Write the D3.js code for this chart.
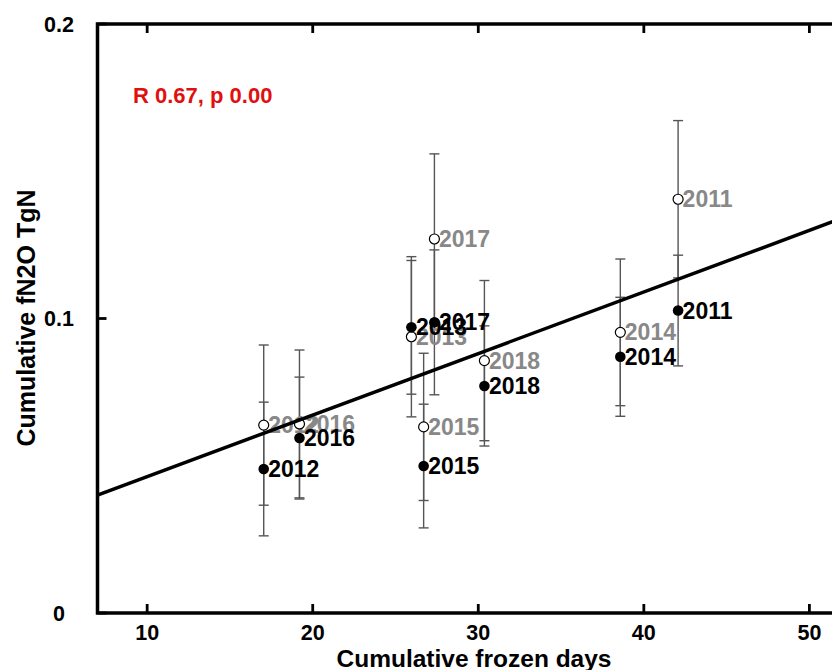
<!DOCTYPE html>
<html><head><meta charset="utf-8">
<script src="https://cdn.jsdelivr.net/npm/d3@7"></script>
<style>body{margin:0;background:#fff}svg{display:block}text{font-family:"Liberation Sans",Arial,sans-serif;font-weight:bold}</style>
</head><body><svg id="c" width="832" height="670"></svg>
<script>
const years = ["2011","2012","2013","2014","2015","2016","2017","2018"];
const frozenDays = [42.07, 17.04, 25.96, 38.58, 26.70, 19.20, 27.35, 30.37];
const filledVal = [0.1027, 0.0489, 0.0970, 0.0870, 0.0499, 0.0594, 0.0987, 0.0771];
const filledErr = [0.0188, 0.0227, 0.0227, 0.0202, 0.0210, 0.0207, 0.0246, 0.0204];
const openVal = [0.1405, 0.0638, 0.0938, 0.0953, 0.0632, 0.0642, 0.1270, 0.0857];
const openErr = [0.0267, 0.0272, 0.0272, 0.0249, 0.0250, 0.0251, 0.0289, 0.0272];
const fitX = [7, 52];
const fitY = [0.0400, 0.1341];
const xTicks = [10, 20, 30, 40, 50];
const yTicks = [0, 0.1, 0.2];
const yTickLabels = ["0", "0.1", "0.2"];
const statText = "R 0.67, p 0.00";

const svg = d3.select("#c");
const x = d3.scaleLinear().domain([7, 52]).range([97.5, 842.5]);
const y = d3.scaleLinear().domain([0, 0.2]).range([613, 24]);

const g = svg.append("g");
years.forEach((yr, i) => {
  const px = x(frozenDays[i]);
  [[filledVal[i], filledErr[i]], [openVal[i], openErr[i]]].forEach(([v, e]) => {
    const y0 = y(v - e), y1 = y(v + e);
    g.append("line").attr("x1", px).attr("x2", px).attr("y1", y0).attr("y2", y1)
      .attr("stroke", "#555").attr("stroke-width", 1.4);
    [y0, y1].forEach(yy => g.append("line").attr("x1", px - 5).attr("x2", px + 5)
      .attr("y1", yy).attr("y2", yy).attr("stroke", "#555").attr("stroke-width", 1.4));
  });
});
years.forEach((yr, i) => {
  const px = x(frozenDays[i]);
  g.append("circle").attr("cx", px).attr("cy", y(openVal[i])).attr("r", 5)
    .attr("fill", "#fff").attr("stroke", "#000").attr("stroke-width", 1.2);
  g.append("text").attr("x", px + 4.5).attr("y", y(openVal[i]) + 8)
    .attr("font-size", 23).attr("fill", "#888").text(yr);
  g.append("circle").attr("cx", px).attr("cy", y(filledVal[i])).attr("r", 5.3)
    .attr("fill", "#000");
  g.append("text").attr("x", px + 4.5).attr("y", y(filledVal[i]) + 8)
    .attr("font-size", 23).attr("fill", "#000").text(yr);
});

svg.append("line").attr("x1", x(fitX[0])).attr("y1", y(fitY[0]))
  .attr("x2", x(fitX[1])).attr("y2", y(fitY[1]))
  .attr("stroke", "#000").attr("stroke-width", 3.5);

const xr = x.range(), yr = y.range();
svg.append("rect").attr("x", xr[0]).attr("y", yr[1]).attr("width", xr[1] - xr[0])
  .attr("height", yr[0] - yr[1]).attr("fill", "none").attr("stroke", "#000").attr("stroke-width", 3.5);
xTicks.forEach(t => {
  svg.append("line").attr("x1", x(t)).attr("x2", x(t)).attr("y1", yr[0]).attr("y2", yr[0] - 9)
    .attr("stroke", "#000").attr("stroke-width", 2.8);
  svg.append("line").attr("x1", x(t)).attr("x2", x(t)).attr("y1", yr[1]).attr("y2", yr[1] + 9)
    .attr("stroke", "#000").attr("stroke-width", 2.8);
  svg.append("text").attr("x", x(t)).attr("y", 640).attr("text-anchor", "middle")
    .attr("font-size", 21.5).text(t);
});
yTicks.forEach((t, i) => {
  svg.append("line").attr("x1", xr[0]).attr("x2", xr[0] + 9).attr("y1", y(t)).attr("y2", y(t))
    .attr("stroke", "#000").attr("stroke-width", 2.8);
  svg.append("line").attr("x1", xr[1]).attr("x2", xr[1] - 9).attr("y1", y(t)).attr("y2", y(t))
    .attr("stroke", "#000").attr("stroke-width", 2.8);
  svg.append("text").attr("x", 59).attr("y", y(t) + 7.5).attr("text-anchor", "middle")
    .attr("font-size", 21.5).text(yTickLabels[i]);
});

svg.append("text").attr("x", 133).attr("y", 102.5).attr("font-size", 22)
  .attr("fill", "#e01010").text(statText);
svg.append("text").attr("x", 474).attr("y", 667).attr("text-anchor", "middle")
  .attr("font-size", 24.5).text("Cumulative frozen days");
svg.append("text").attr("transform", "translate(35,318) rotate(-90)").attr("text-anchor", "middle")
  .attr("font-size", 25).text("Cumulative fN2O TgN");
</script></body></html>
